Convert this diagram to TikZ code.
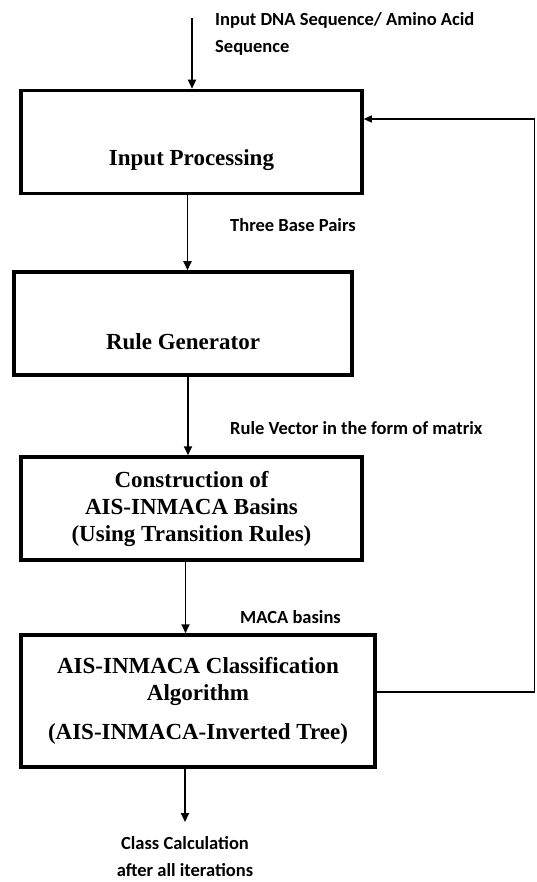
\documentclass[tikz,border=0pt]{standalone}
\usepackage{fontspec}
\setmainfont{Liberation Serif}
\newfontfamily\lblfont{Carlito}
\usetikzlibrary{arrows.meta}
\tikzset{
  procbox/.style={draw=black, line width=3.5pt, minimum width=341pt, minimum height=103pt, inner sep=0pt},
  boxtext/.style={font=\fontsize{23}{27}\selectfont\bfseries, align=center, inner sep=0pt},
  lbl/.style={font=\lblfont\fontsize{18.5}{27}\selectfont\bfseries, align=left, anchor=west, inner sep=0pt},
  flow/.style={-{Triangle[length=9pt,width=8pt]}, line width=1.8pt},
}
\begin{document}
\begin{tikzpicture}[x=1pt,y=-1pt]
    \useasboundingbox (0,0) rectangle (536,882);

    % process boxes
    \node[procbox] (inproc) at (191.5,142) {};
    \node[boxtext] (inproctxt) at (191.5,160) {Input Processing};
    \node[procbox, minimum width=338pt] (rulegen) at (183,323.5) {};
    \node[boxtext] (rulegentxt) at (183,342) {Rule Generator};
    \node[procbox, boxtext, line width=3.5pt] (basins) at (191.5,508.5)
        {Construction of\\AIS-INMACA Basins\\(Using Transition Rules)};
    \node[procbox, boxtext, line width=3.5pt, minimum width=354pt, minimum height=132pt] (classify) at (198,701)
        {AIS-INMACA Classification\\Algorithm\\[12pt](AIS-INMACA-Inverted Tree)};

    % free ends
    \coordinate (start) at (192,18);
    \coordinate (out) at (185,822);

    % labels
    \node[lbl] (inlbl) at (215,33.5) {Input DNA Sequence/ Amino Acid\\Sequence};
    \node[lbl] (pairlbl) at (230,225) {Three Base Pairs};
    \node[lbl] (veclbl) at (230,428) {Rule Vector in the form of matrix};
    \node[lbl] (macalbl) at (240,617) {MACA basins};
    \node[lbl, anchor=north, align=center] (outlbl) at (185,836) {Class Calculation\\after all iterations};

    % flow
    \draw[flow] (start) -- (start |- inproc.north);
    \draw[flow] ([xshift=-4pt]inproc.south) -- ([xshift=-4pt]inproc.south |- rulegen.north);
    \draw[flow] ([xshift=5pt]rulegen.south) -- ([xshift=5pt]rulegen.south |- basins.north);
    \draw[flow] ([xshift=-6pt]basins.south) -- ([xshift=-6pt]basins.south |- classify.north);
    \draw[flow] (out |- classify.south) -- (out);

    % feedback
    \draw[-{Triangle[length=8pt,width=7pt]}, line width=1.2pt]
        ([yshift=9pt]classify.east) -- ++(158,0) |- ([yshift=23pt]inproc.east);
\end{tikzpicture}
\end{document}
